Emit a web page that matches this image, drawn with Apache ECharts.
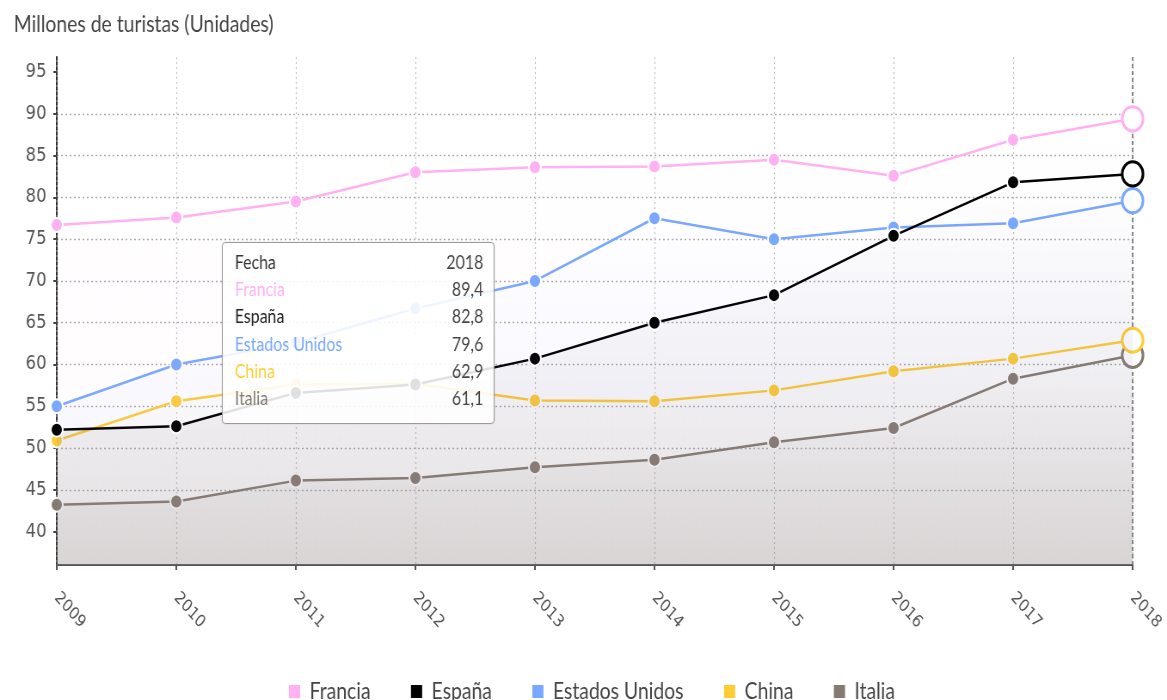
<!DOCTYPE html>
<html>
<head>
<meta charset="utf-8">
<script src="https://cdn.jsdelivr.net/npm/echarts@6/dist/echarts.min.js"></script>
<style>
  html, body { margin: 0; padding: 0; background: #fff; overflow: hidden; }
  /* the chart is laid out a little wider and condensed horizontally */
  #main { width: 1357px; height: 700px; transform: scaleX(0.86); transform-origin: 0 0; }
</style>
</head>
<body>
<div id="main"></div>
<script>
// Llegadas de turistas internacionales (millones)
const years = ['2009', '2010', '2011', '2012', '2013', '2014', '2015', '2016', '2017', '2018'];
const francia = [76.7, 77.6, 79.5, 83.0, 83.6, 83.7, 84.5, 82.6, 86.9, 89.4];
const espana = [52.2, 52.6, 56.6, 57.6, 60.7, 65.0, 68.3, 75.4, 81.8, 82.8];
const estadosUnidos = [55.0, 60.0, 62.6, 66.7, 70.0, 77.5, 75.0, 76.4, 76.9, 79.6];
const china = [50.9, 55.6, 57.6, 57.7, 55.7, 55.6, 56.9, 59.2, 60.7, 62.9];
const italia = [43.2, 43.6, 46.1, 46.4, 47.7, 48.6, 50.7, 52.4, 58.3, 61.1];
const yTicks = [40, 45, 50, 55, 60, 65, 70, 75, 80, 85, 90, 95];

const seriesNames = ['Francia', 'España', 'Estados Unidos', 'China', 'Italia'];
const seriesValues = [francia, espana, estadosUnidos, china, italia];
const seriesColors = ['#ffb1f2', '#000000', '#78a8ff', '#ffcd33', '#857a6f'];
const areaAlpha = [0.08, 0.10, 0.12, 0.10, 0.16];

const FONT = 'Lato';
const AXIS_FONT = 'DejaVu Sans';

function hexToRgba(hex, a) {
  const n = parseInt(hex.slice(1), 16);
  return 'rgba(' + (n >> 16 & 255) + ',' + (n >> 8 & 255) + ',' + (n & 255) + ',' + a + ')';
}

function fmt(v) { return v.toFixed(1).replace('.', ','); }

const series = seriesNames.map(function (name, i) {
  const color = seriesColors[i];
  const vals = seriesValues[i];
  const last = vals.length - 1;
  return {
    name: name,
    type: 'line',
    symbol: 'circle',
    symbolSize: 14,
    showAllSymbol: true,
    emphasis: { disabled: true },
    lineStyle: { color: color, width: 2.5 },
    itemStyle: { color: color, borderColor: '#ffffff', borderWidth: 2 },
    areaStyle: {
      color: new echarts.graphic.LinearGradient(0, 0, 0, 1, [
        { offset: 0, color: hexToRgba(color, 0) },
        { offset: 1, color: hexToRgba(color, areaAlpha[i]) }
      ])
    },
    z: 10 - i,
    data: vals.map(function (v, j) {
      if (j !== last) return v;
      return {
        value: v,
        symbolSize: 22,
        itemStyle: { color: '#ffffff', borderColor: color, borderWidth: 3 }
      };
    })
  };
});

const chart = echarts.init(document.getElementById('main'), null, { renderer: 'canvas' });

chart.setOption({
  animation: false,
  backgroundColor: '#ffffff',
  color: seriesColors,
  title: {
    text: 'Millones de turistas (Unidades)',
    left: 11,
    top: 8,
    textStyle: { fontFamily: FONT, fontSize: 22.5, fontWeight: 'normal', color: '#444' }
  },
  legend: {
    data: seriesNames,
    left: 329,
    top: 675,
    icon: 'rect',
    itemWidth: 15,
    itemHeight: 15,
    itemGap: 45,
    textStyle: { fontFamily: FONT, fontSize: 22.5, color: '#444', padding: [0, 0, 0, 5] }
  },
  grid: { left: 66, right: 40, top: 57, bottom: 135 },
  axisPointer: { z: 1 },
  tooltip: {
    trigger: 'axis',
    triggerOn: 'none',
    alwaysShowContent: true,
    position: [258, 242],
    backgroundColor: 'rgba(255,255,255,0.88)',
    borderColor: '#9a9a9a',
    borderWidth: 1,
    borderRadius: 4,
    padding: [6, 12, 11, 14],
    extraCssText: 'width:317px;box-sizing:border-box;box-shadow:0 0 2px rgba(0,0,0,0.15);',
    axisPointer: {
      type: 'line',
      z: 1,
      lineStyle: { color: '#666', width: 1.5, type: [4, 3] }
    },
    formatter: function (params) {
      const row = function (label, value, color) {
        return '<div style="display:flex;justify-content:space-between;line-height:27.2px;">' +
          '<span style="color:' + color + ';">' + label + '</span>' +
          '<span style="color:#444;">' + value + '</span></div>';
      };
      let html = '<div style="font-family:' + FONT + ';font-size:18.5px;">';
      html += row('Fecha', params[0].axisValue, '#333');
      params.forEach(function (p) {
        const c = p.seriesIndex === 1 ? '#222' : seriesColors[p.seriesIndex];
        html += row(p.seriesName, fmt(p.value), c);
      });
      return html + '</div>';
    }
  },
  xAxis: {
    type: 'category',
    data: years,
    boundaryGap: false,
    axisLine: { show: true, lineStyle: { color: '#555', width: 2 } },
    axisTick: { show: true, length: 5, lineStyle: { color: '#555', width: 2 } },
    axisLabel: {
      rotate: -45,
      margin: 30,
      fontFamily: AXIS_FONT,
      fontSize: 17,
      color: '#555'
    },
    splitLine: { show: true, lineStyle: { color: '#c4c4c4', width: 1.2, type: [2, 3] } }
  },
  yAxis: {
    type: 'value',
    min: 36,
    max: 96.8,
    splitNumber: 12,
    axisLine: { show: true, lineStyle: { color: '#333', width: 2, type: [3, 2] } },
    axisTick: { show: true, length: 4, customValues: yTicks, lineStyle: { color: '#444', width: 2 } },
    axisLabel: {
      customValues: yTicks,
      margin: 12,
      fontFamily: AXIS_FONT,
      fontSize: 19,
      color: '#555'
    },
    splitLine: {
      show: true,
      showMinLine: false,
      showMaxLine: false,
      lineStyle: { color: '#ababab', width: 1.3, type: [2, 3] }
    }
  },
  series: series
});

chart.dispatchAction({ type: 'showTip', seriesIndex: 0, dataIndex: years.length - 1 });
</script>
</body>
</html>
